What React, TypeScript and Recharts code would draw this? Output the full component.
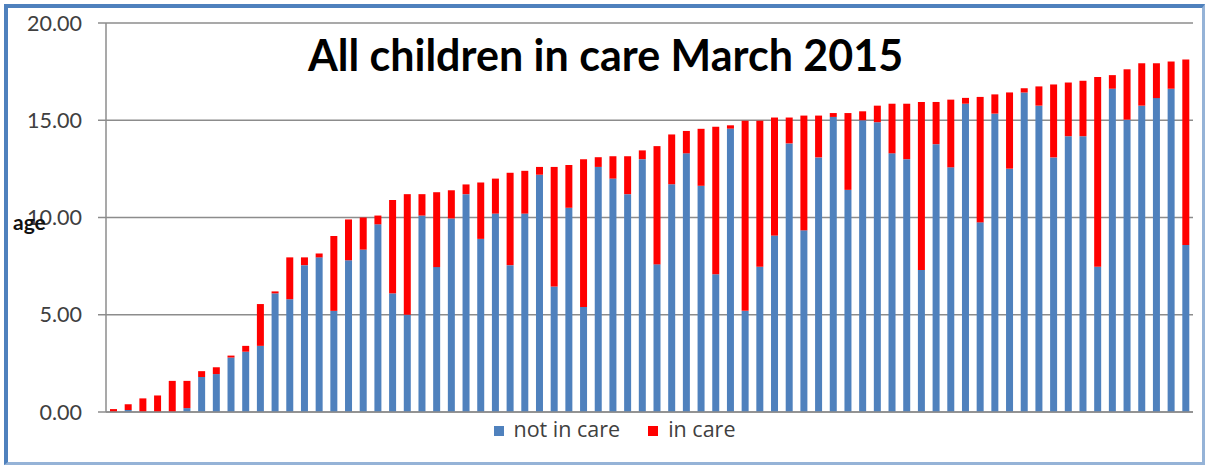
import React from 'react';
import { BarChart, Bar, XAxis, YAxis, CartesianGrid, Legend } from 'recharts';

const totalAge = [
  0.15, 0.4, 0.7, 0.85, 1.6, 1.6, 2.1, 2.3, 2.9, 3.4,
  5.55, 6.2, 7.95, 7.95, 8.15, 9.05, 9.9, 10.0, 10.1, 10.9,
  11.2, 11.2, 11.3, 11.4, 11.7, 11.8, 12.0, 12.3, 12.4, 12.6,
  12.6, 12.7, 13.0, 13.1, 13.15, 13.15, 13.45, 13.67, 14.27, 14.45,
  14.56, 14.66, 14.74, 14.97, 14.97, 15.14, 15.14, 15.24, 15.24, 15.37,
  15.37, 15.46, 15.75, 15.85, 15.85, 15.94, 15.94, 16.06, 16.15, 16.2,
  16.33, 16.43, 16.64, 16.74, 16.84, 16.94, 17.03, 17.23, 17.32, 17.62,
  17.93, 17.93, 18.02, 18.12,
];

const notInCare = [
  0, 0.1, 0, 0, 0, 0.2, 1.8, 1.95, 2.8, 3.1,
  3.4, 6.1, 5.8, 7.55, 7.95, 5.2, 7.8, 8.35, 9.65, 6.1,
  5.0, 10.1, 7.45, 9.95, 11.2, 8.9, 10.2, 7.55, 10.2, 12.2,
  6.45, 10.5, 5.4, 12.6, 12.0, 11.2, 13.0, 7.59, 11.71, 13.3,
  11.63, 7.08, 14.57, 5.2, 7.47, 9.07, 13.81, 9.34, 13.09, 15.17,
  11.42, 15.0, 14.9, 13.3, 13.0, 7.3, 13.77, 12.58, 15.85, 9.75,
  15.34, 12.51, 16.43, 15.75, 13.09, 14.18, 14.18, 7.47, 16.62, 15.03,
  15.75, 16.14, 16.62, 8.58,
];

const yTicks = [0, 5, 10, 15, 20];
const seriesOrder = ['not in care', 'in care'];
const titleText = 'All children in care March 2015';
const yLabel = 'age';

const data = totalAge.map((t, i) => ({
  idx: i + 1,
  notInCare: notInCare[i],
  inCare: Math.round((t - notInCare[i]) * 100) / 100,
}));

const FONT = 'Lato, "Open Sans", sans-serif';
const LEGEND_FONT = '"Open Sans", Lato, sans-serif';
const GRID = '#8c8c8c';

export default function App() {
  return (
    <div style={{ position: 'absolute', left: 0, top: 0, width: 1205, height: 466, background: '#fff', fontFamily: FONT }}>
      <div
        style={{
          position: 'absolute',
          left: 4,
          top: 4,
          width: 1201,
          height: 461,
          boxSizing: 'border-box',
          borderTop: '4px solid #4F81BD',
          borderLeft: '4px solid #4F81BD',
          borderRight: '3px solid #95B3D7',
          borderBottom: '3px solid #95B3D7',
        }}
      />
      <BarChart
        width={1205}
        height={466}
        data={data}
        margin={{ top: 23, right: 12, left: 0, bottom: 24 }}
        barCategoryGap={0}
        style={{ position: 'absolute', left: 0, top: 0 }}
      >
        <CartesianGrid vertical={false} stroke={GRID} strokeWidth={1.5} />
        <XAxis dataKey="idx" tick={false} tickLine={false} axisLine={{ stroke: GRID, strokeWidth: 1.5 }} height={30} />
        <YAxis
          width={106}
          domain={[0, 20]}
          ticks={yTicks}
          interval={0}
          tickFormatter={(v: number) => v.toFixed(2)}
          tick={{ fill: '#404040', fontSize: 21.5, fontFamily: FONT }}
          tickSize={8}
          tickMargin={16}
          tickLine={{ stroke: GRID, strokeWidth: 1.5 }}
          axisLine={{ stroke: GRID, strokeWidth: 1.5 }}
          label={{ value: yLabel, position: 'insideLeft', offset: 13, dy: 5, fill: '#111', fontSize: 21, fontWeight: 700, fontFamily: FONT, angle: 0 }}
        />
        <Legend
          verticalAlign="middle"
          align="center"
          layout="horizontal"
          iconType="square"
          iconSize={10}
          itemSorter={(item: any) => seriesOrder.indexOf(item.value)}
          wrapperStyle={{ top: 414, left: 32, width: 1193, fontFamily: LEGEND_FONT, fontSize: 21.5 }}
          formatter={(value: string) => <span style={{ color: '#404040', marginLeft: 6, marginRight: 18 }}>{value}</span>}
        />
        <Bar dataKey="notInCare" name={seriesOrder[0]} stackId="a" fill="#4F81BD" barSize={7} isAnimationActive={false} />
        <Bar dataKey="inCare" name={seriesOrder[1]} stackId="a" fill="#FF0000" barSize={7} isAnimationActive={false} />
      </BarChart>
      <div
        style={{
          position: 'absolute',
          left: 0,
          width: 1205,
          top: 29,
          paddingLeft: 6,
          boxSizing: 'border-box',
          textAlign: 'center',
          fontFamily: FONT,
          fontWeight: 700,
          fontSize: 43,
          lineHeight: '52px',
          color: '#000',
        }}
      >
        {titleText}
      </div>
    </div>
  );
}
